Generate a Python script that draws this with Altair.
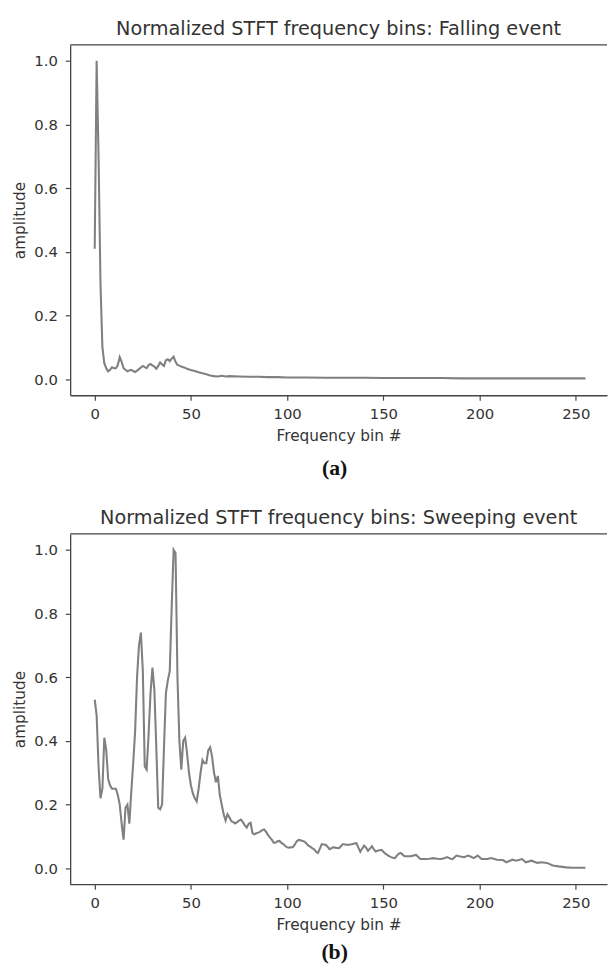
import altair as alt
import pandas as pd

# ---------------- data ----------------
fall_x = [0, 1, 2, 3, 4, 5, 6, 7, 8, 9, 10, 11, 12, 13, 14, 15, 16, 17, 18, 19,
          20, 21, 22, 23, 24, 25, 26, 27, 28, 29, 30, 31, 32, 33, 34, 35, 36, 37,
          38, 39, 40, 41, 42, 43, 44, 45, 46, 47, 48, 49, 50, 52, 54, 56, 58, 60,
          62, 64, 66, 68, 70, 75, 80, 85, 90, 95, 100, 110, 120, 130, 140, 150,
          160, 170, 180, 190, 200, 210, 220, 230, 240, 255]
fall_y = [0.41, 1.0, 0.70, 0.30, 0.10, 0.05, 0.035, 0.025, 0.03, 0.038, 0.035,
          0.035, 0.045, 0.07, 0.055, 0.035, 0.03, 0.025, 0.028, 0.03, 0.026,
          0.023, 0.027, 0.032, 0.037, 0.042, 0.038, 0.035, 0.045, 0.048, 0.044,
          0.04, 0.033, 0.042, 0.053, 0.047, 0.042, 0.06, 0.063, 0.057, 0.065,
          0.071, 0.055, 0.045, 0.043, 0.04, 0.038, 0.036, 0.033, 0.031, 0.029,
          0.026, 0.022, 0.019, 0.016, 0.012, 0.010, 0.009, 0.011, 0.009, 0.010,
          0.009, 0.008, 0.008, 0.007, 0.007, 0.006, 0.006, 0.005, 0.005, 0.005,
          0.004, 0.004, 0.004, 0.004, 0.003, 0.003, 0.003, 0.003, 0.003, 0.003,
          0.003]

sweep_x = list(range(0, 171)) + [172, 174, 176, 178, 180, 182, 183, 185, 186,
          188, 190, 192, 194, 195, 197, 199, 201, 204, 206, 209, 212, 214, 217,
          219, 222, 224, 227, 230, 232, 235, 238, 241, 245, 248, 255]
sweep_y = [0.53, 0.48, 0.32, 0.22, 0.25, 0.41, 0.37, 0.28, 0.26, 0.25,
           0.25, 0.25, 0.23, 0.20, 0.14, 0.09, 0.19, 0.20, 0.14, 0.24,
           0.33, 0.43, 0.60, 0.70, 0.74, 0.62, 0.32, 0.31, 0.42, 0.55,
           0.63, 0.56, 0.38, 0.19, 0.185, 0.20, 0.38, 0.55, 0.59, 0.62,
           0.82, 1.0, 0.99, 0.60, 0.40, 0.31, 0.40, 0.41, 0.36, 0.30,
           0.26, 0.235, 0.22, 0.21, 0.25, 0.30, 0.34, 0.33, 0.33, 0.37,
           0.38, 0.35, 0.30, 0.27, 0.29, 0.23, 0.20, 0.17, 0.15, 0.17,
           0.16, 0.148, 0.145, 0.141, 0.145, 0.15, 0.153, 0.145, 0.135, 0.128,
           0.14, 0.143, 0.11, 0.107, 0.11, 0.112, 0.115, 0.12, 0.122, 0.115,
           0.105, 0.097, 0.09, 0.08, 0.08, 0.085, 0.086, 0.08, 0.076, 0.07,
           0.066, 0.065, 0.066, 0.066, 0.075, 0.085, 0.089, 0.088, 0.086, 0.084,
           0.078, 0.071, 0.068, 0.063, 0.06, 0.052, 0.048, 0.062, 0.076, 0.075,
           0.074, 0.068, 0.06, 0.063, 0.066, 0.065, 0.064, 0.063, 0.07, 0.076,
           0.075, 0.074, 0.074, 0.075, 0.076, 0.078, 0.079, 0.065, 0.052, 0.062,
           0.071, 0.065, 0.055, 0.062, 0.069, 0.06, 0.053, 0.055, 0.057, 0.058,
           0.052, 0.046, 0.042, 0.038, 0.035, 0.033, 0.032, 0.04, 0.046, 0.048,
           0.043, 0.038, 0.038, 0.038, 0.038, 0.039, 0.041, 0.042, 0.036, 0.03,
           0.029,
           0.029, 0.03, 0.032, 0.03, 0.029, 0.032, 0.035, 0.03, 0.029,
           0.04, 0.037, 0.035, 0.04, 0.038, 0.032, 0.04, 0.029, 0.029, 0.032,
           0.027, 0.026, 0.019, 0.027, 0.024, 0.029, 0.019, 0.024, 0.017, 0.019,
           0.017, 0.009, 0.006, 0.003, 0.002, 0.002]

titles = ["Normalized STFT frequency bins: Falling event",
          "Normalized STFT frequency bins: Sweeping event"]
captions = ["(a)", "(b)"]
x_ticks = [0, 50, 100, 150, 200, 250]
y_ticks = [0.0, 0.2, 0.4, 0.6, 0.8, 1.0]

# ---------------- styling ----------------
W = 544
H = 355
FONT = "DejaVu Sans"
TXT = "#333333"
AX = "#444444"
LINE = "#808080"


def panel(xs, ys, title, cap, cap_off):
    df = pd.DataFrame({"bin": xs, "amp": ys})
    xenc = alt.X("bin:Q",
                 scale=alt.Scale(domain=[-12.75, 266.2], nice=False, zero=False),
                 axis=alt.Axis(values=x_ticks, format="d", title="Frequency bin #",
                               grid=False, tickSize=5, labelPadding=7,
                               titlePadding=7))
    yenc = alt.Y("amp:Q",
                 scale=alt.Scale(domain=[-0.05, 1.05], nice=False, zero=False),
                 axis=alt.Axis(values=y_ticks, format=".1f", title="amplitude",
                               grid=False, tickSize=5, labelPadding=8,
                               titlePadding=6))
    line = alt.Chart(df).mark_line(color=LINE, strokeWidth=2.1, clip=True).encode(
        x=xenc, y=yenc)
    top = alt.Chart(pd.DataFrame({"amp": [1.05]})).mark_rule(
        color=AX, strokeWidth=1.3).encode(
        y=yenc, x=alt.value(0), x2=alt.value(W))
    capt = alt.Chart(pd.DataFrame({"t": [cap]})).mark_text(
        font="Liberation Serif", fontWeight="bold", fontSize=22, color="#111111",
        baseline="middle", align="center").encode(
        text="t:N", x=alt.value(268), y=alt.value(H + cap_off))
    return alt.layer(line, top, capt).properties(
        width=W, height=H,
        title=alt.TitleParams(text=title, font=FONT, fontSize=19.5,
                              fontWeight="normal", color=TXT, anchor="middle",
                              frame="group", offset=4.5))


chart = alt.vconcat(
    panel(fall_x, fall_y, titles[0], captions[0], 74),
    panel(sweep_x, sweep_y, titles[1], captions[1], 69),
    spacing=29.5,
).properties(
    padding={"left": 5, "top": 5, "right": 0, "bottom": 0},
    background="white",
).configure_view(stroke=None).configure_axis(
    labelFont=FONT, titleFont=FONT, labelFontSize=15, titleFontSize=15.5,
    labelColor=TXT, titleColor=TXT, titleFontWeight="normal",
    domainColor=AX, tickColor=AX, domainWidth=1.3, tickWidth=1.2,
)

chart.save("out.html", embed_options={"renderer": "svg", "actions": False})
